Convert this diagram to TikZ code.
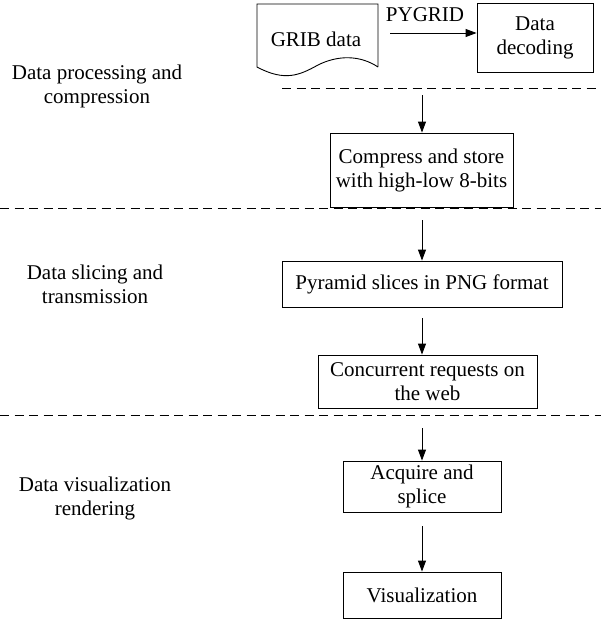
\documentclass[tikz,border=0pt]{standalone}
\usepackage{fontspec}
\setmainfont{Liberation Serif}
\usetikzlibrary{arrows.meta}
\begin{document}
\begin{tikzpicture}[x=1pt,y=-1pt,
  txt/.style={font=\fontsize{21}{24}\selectfont, align=center, inner sep=0pt},
  box/.style={draw, line width=0.9pt, minimum width=#1, inner sep=0pt},
  flow/.style={-{Triangle[length=11pt,width=8pt]}, line width=0.9pt},
  sep/.style={dashed, dash pattern=on 9pt off 5.5pt, line width=0.9pt}]
\useasboundingbox (0,0) rectangle (601,624);

% document symbol for the raw input
\draw[line width=0.9pt] (378,67) -- (378,4) -- (257,4) -- (257,67)
  .. controls (285,82) and (300,75) .. (318,65)
  .. controls (338,55) and (360,55) .. (378,67);
\node[txt] (grib) at (316,39) {GRIB data};

% decoding step
\node[box=116pt, minimum height=69pt, txt, draw] (dec) at (535,37.5) {Data\\decoding};
\draw[flow] (390,33) coordinate (p) -- (dec.west |- p);
\node[txt, anchor=south] (pyg) at (425,22) {PYGRID};

% section separators
\coordinate (s1a) at (282,88); \coordinate (s1b) at (601,88);
\coordinate (s2a) at (0,208); \coordinate (s2b) at (601,208);
\coordinate (s3a) at (0,415); \coordinate (s3b) at (601,415);
\draw[sep] (s1a) -- (s1b);
\draw[sep] (s2a) -- (s2b);
\draw[sep] (s3a) -- (s3b);

% main flow
\node[box=183pt, minimum height=74pt, txt, draw] (comp) at (421.5,170) {Compress and store\\with high-low 8-bits};
\node[box=280pt, minimum height=46pt, txt, draw] (pyr) at (422,284) {Pyramid slices in PNG format};
\node[box=219pt, minimum height=53pt, txt, draw] (conc) at (427.5,381.5) {Concurrent requests on\\the web};
\node[box=158pt, minimum height=51pt, txt, draw] (acq) at (422,486.5) {Acquire and\\splice};
\node[box=158pt, minimum height=46pt, txt, draw] (vis) at (422,595) {Visualization};

\coordinate (a1) at (422,95);
\coordinate (a2) at (422,220);
\coordinate (a3) at (422,318);
\coordinate (a4) at (422,428);
\coordinate (a5) at (422,526);
\draw[flow] (a1) -- (a1 |- comp.north);
\draw[flow] (a2) -- (a2 |- pyr.north);
\draw[flow] (a3) -- (a3 |- conc.north);
\draw[flow] (a4) -- (a4 |- acq.north);
\draw[flow] (a5) -- (a5 |- vis.north);

% stage labels
\node[txt] (l1) at (97,86) {Data processing and\\compression};
\node[txt] (l2) at (95,284) {Data slicing and\\transmission};
\node[txt] (l3) at (95,498) {Data visualization\\rendering};
\end{tikzpicture}
\end{document}
